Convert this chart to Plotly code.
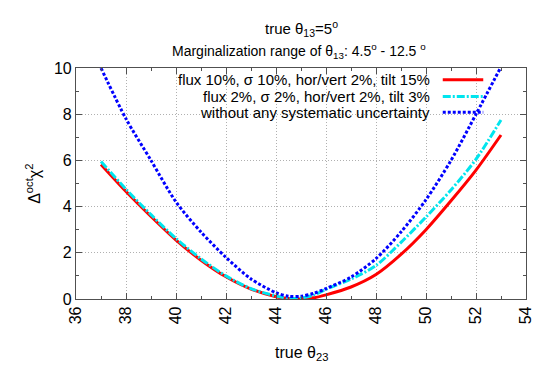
import plotly.graph_objects as go

# true theta23 (degrees)
theta23 = [37, 38, 39, 40, 41, 42, 43, 44, 44.5, 45, 45.5, 46, 47, 48, 49, 50, 51, 52, 53]

# flux 10%, sigma 10%, hor/vert 2%, tilt 15%
chi_red = [5.82, 4.65, 3.57, 2.55, 1.68, 0.96, 0.43, 0.1, 0.02, 0.0, 0.05, 0.18, 0.52, 1.06, 1.93, 3.0, 4.25, 5.58, 7.1]
# flux 2%, sigma 2%, hor/vert 2%, tilt 3%
chi_cyan = [5.95, 4.75, 3.65, 2.62, 1.74, 1.0, 0.45, 0.13, 0.03, 0.04, 0.17, 0.42, 0.86, 1.45, 2.45, 3.55, 4.72, 6.05, 7.75]
# without any systematic uncertainty
chi_blue = [10.0, 7.8, 6.0, 4.2, 2.9, 1.8, 0.87, 0.27, 0.12, 0.12, 0.24, 0.45, 0.95, 1.75, 2.9, 4.3, 6.0, 8.0, 10.05]

labels = ["flux 10%, σ 10%, hor/vert 2%, tilt 15%",
          "flux 2%, σ 2%, hor/vert 2%, tilt 3%",
          "without any systematic uncertainty"]
colors = ["#ff0000", "#00e5ee", "#0000ff"]
dashes = ["solid", "8px,2px,2px,2px", "3px,2px"]

font = "Liberation Sans, Arial, sans-serif"

fig = go.Figure()
for ys, col, dsh, name in zip([chi_red, chi_cyan, chi_blue], colors, dashes, labels):
    fig.add_trace(go.Scatter(
        x=theta23, y=ys, mode="lines", name=name, showlegend=False,
        line=dict(color=col, width=3, dash=dsh, shape="spline", smoothing=0.8),
    ))

# gnuplot style key: text right aligned, sample on the right
key_y = [0.949, 0.877, 0.808]
for lab, col, dsh, ky in zip(labels, colors, dashes, key_y):
    fig.add_annotation(x=0.79, y=ky, xref="paper", yref="paper", text=lab,
                       showarrow=False, xanchor="right", yanchor="middle",
                       font=dict(size=15, color="black", family=font))
    fig.add_shape(type="line", xref="paper", yref="paper",
                  x0=0.815, x1=0.905, y0=ky, y1=ky,
                  line=dict(color=col, width=3, dash=dsh))

# titles
fig.add_annotation(x=0.5, y=1.169, xref="paper", yref="paper", yanchor="middle",
                   text="true θ<sub>13</sub>=5<sup>o</sup>", showarrow=False,
                   font=dict(size=15, color="black", family=font))
fig.add_annotation(x=0.495, y=1.074, xref="paper", yref="paper", yanchor="middle",
                   text="Marginalization range of θ<sub>13</sub>: 4.5<sup>o</sup> - 12.5 <sup>o</sup>",
                   showarrow=False, font=dict(size=14, color="black", family=font))
fig.add_annotation(x=0.5, y=-0.234, xref="paper", yref="paper", yanchor="middle",
                   text="true θ<sub>23</sub>", showarrow=False,
                   font=dict(size=16, color="black", family=font))
fig.add_annotation(x=-0.097, y=0.5, xref="paper", yref="paper",
                   xanchor="center", yanchor="middle",
                   text="Δ<sup>oct</sup>χ<sup>2</sup>", showarrow=False, textangle=-90,
                   font=dict(size=16, color="black", family=font))

axis_common = dict(
    showline=True, linecolor="#505050", linewidth=1.2, mirror="ticks",
    ticks="inside", ticklen=6, tickcolor="#505050",
    showgrid=True, gridcolor="#b0b0b0", griddash="1px,2px", gridwidth=1,
    zeroline=False,
    tickfont=dict(size=16, color="black", family=font),
)

fig.update_xaxes(range=[36, 54], dtick=2, tick0=36, tickangle=-90,
                 minor=dict(ticks="inside", dtick=1, ticklen=3, tickcolor="#505050", showgrid=False),
                 **axis_common)
fig.update_yaxes(range=[0, 10], dtick=2, tick0=0,
                 minor=dict(ticks="inside", dtick=1, ticklen=3, tickcolor="#505050", showgrid=False),
                 **axis_common)

fig.update_layout(
    width=545, height=382,
    margin=dict(l=68, r=27, t=60, b=91),
    paper_bgcolor="white", plot_bgcolor="white",
    font=dict(family=font, color="black"),
)

fig.write_html("out.html")
